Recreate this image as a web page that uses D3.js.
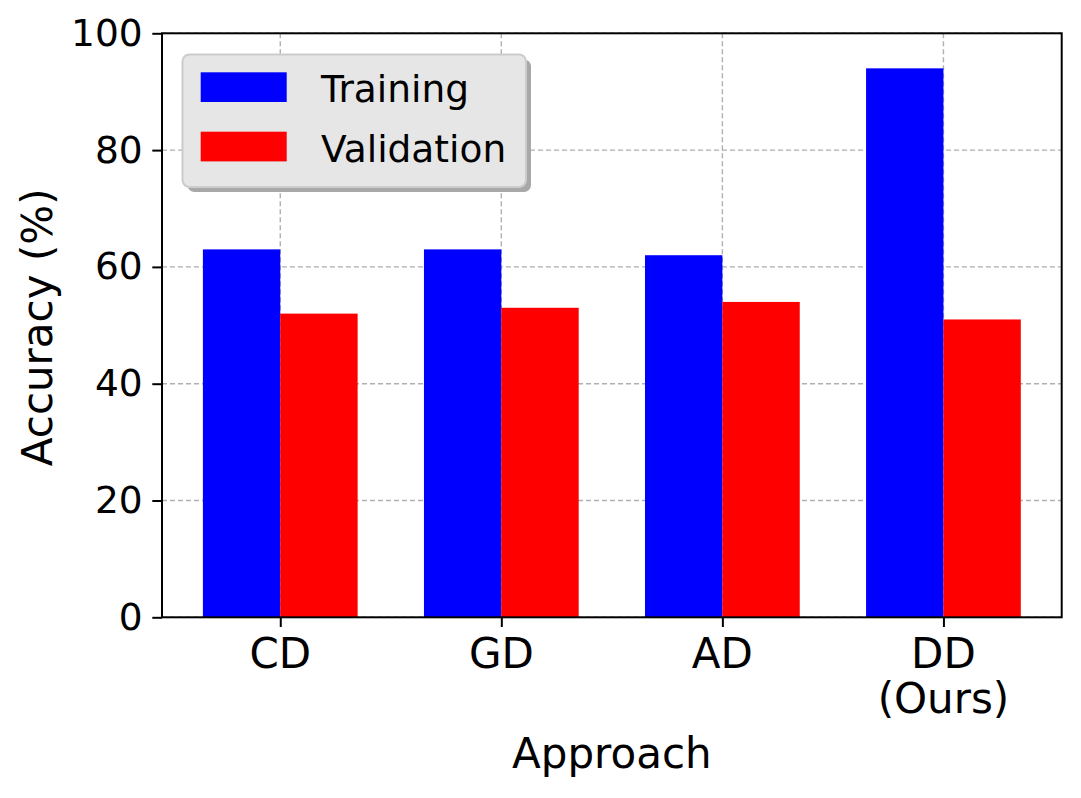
<!DOCTYPE html>
<html>
<head>
<meta charset="utf-8">
<script src="https://cdn.jsdelivr.net/npm/d3@7"></script>
<style>
  html, body { margin: 0; padding: 0; background: #fff; }
  svg { display: block; font-family: "DejaVu Sans", sans-serif; }
</style>
</head>
<body>
<svg id="chart" width="1081" height="798"></svg>
<script>
const categories = ["CD", "GD", "AD", "DD\n(Ours)"];
const training = [63, 63, 62, 94];
const validation = [52, 53, 54, 51];
const seriesNames = ["Training", "Validation"];
const seriesColors = ["#0000ff", "#ff0000"];
const yTicks = [0, 20, 40, 60, 80, 100];
const barWidth = 0.35;

const svg = d3.select("#chart");
const plot = { left: 162, right: 1061.7, top: 33.3, bottom: 617.3 };

const x = d3.scaleLinear().domain([-0.535, categories.length - 1 + 0.535]).range([plot.left, plot.right]);
const y = d3.scaleLinear().domain([0, 100]).range([plot.bottom, plot.top]);

// grid
const grid = svg.append("g");
grid.selectAll("line.h").data(yTicks).join("line")
  .attr("x1", plot.left).attr("x2", plot.right)
  .attr("y1", d => y(d)).attr("y2", d => y(d))
  .attr("stroke", "#b0b0b0").attr("stroke-width", 1.4).attr("stroke-dasharray", "5,3");
grid.selectAll("line.v").data(categories.map((c, i) => i)).join("line")
  .attr("x1", d => x(d)).attr("x2", d => x(d))
  .attr("y1", plot.top).attr("y2", plot.bottom)
  .attr("stroke", "#b0b0b0").attr("stroke-width", 1.4).attr("stroke-dasharray", "5,3");

// bars
const series = [training, validation];
series.forEach((vals, s) => {
  svg.append("g").selectAll("rect").data(vals).join("rect")
    .attr("x", (d, i) => x(i - barWidth + s * barWidth))
    .attr("width", x(barWidth) - x(0))
    .attr("y", d => y(d))
    .attr("height", d => y(0) - y(d))
    .attr("fill", seriesColors[s]);
});

// axes
const yAxis = d3.axisLeft(y).tickValues(yTicks).tickSize(9.7).tickPadding(9.7);
const gy = svg.append("g").attr("transform", `translate(${plot.left},0)`).call(yAxis);
gy.select(".domain").remove();
gy.selectAll(".tick line").attr("stroke", "#000").attr("stroke-width", 2);
gy.selectAll(".tick text").attr("font-size", 37.5).attr("fill", "#000")
  .attr("font-family", "DejaVu Sans");

const xAxis = d3.axisBottom(x).tickValues(categories.map((c, i) => i)).tickSize(9.7).tickFormat("");
const gx = svg.append("g").attr("transform", `translate(0,${plot.bottom})`).call(xAxis);
gx.select(".domain").remove();
gx.selectAll(".tick line").attr("stroke", "#000").attr("stroke-width", 2);

// x tick labels (multi-line)
const xl = svg.append("g");
categories.forEach((c, i) => {
  const lines = c.split("\n");
  const t = xl.append("text").attr("text-anchor", "middle")
    .attr("font-size", 42).attr("fill", "#000");
  lines.forEach((ln, k) => {
    t.append("tspan").attr("x", x(i)).attr("y", 667.7 + k * 45.6).text(ln);
  });
});

// frame
svg.append("rect")
  .attr("x", plot.left).attr("y", plot.top)
  .attr("width", plot.right - plot.left).attr("height", plot.bottom - plot.top)
  .attr("fill", "none").attr("stroke", "#000").attr("stroke-width", 2);

// axis labels
svg.append("text").attr("x", (plot.left + plot.right) / 2).attr("y", 768.3)
  .attr("text-anchor", "middle").attr("font-size", 42).attr("fill", "#000").text("Approach");
svg.append("text")
  .attr("transform", `translate(52,${(plot.top + plot.bottom) / 2 + 2}) rotate(-90)`)
  .attr("text-anchor", "middle").attr("font-size", 42).attr("fill", "#000").text("Accuracy (%)");

// legend
const lg = svg.append("g");
const lb = { x: 182.5, y: 54.5, w: 343.5, h: 132.5 };
lg.append("rect").attr("x", lb.x + 5).attr("y", lb.y + 5).attr("width", lb.w).attr("height", lb.h)
  .attr("rx", 7).attr("fill", "#a8a8a8");
lg.append("rect").attr("x", lb.x).attr("y", lb.y).attr("width", lb.w).attr("height", lb.h)
  .attr("rx", 7).attr("fill", "#e6e6e6").attr("stroke", "#cccccc").attr("stroke-width", 2);
seriesNames.forEach((name, i) => {
  const yy = 72.3 + i * 59.4;
  lg.append("rect").attr("x", 200.7).attr("y", yy).attr("width", 86).attr("height", 29.7)
    .attr("fill", seriesColors[i]);
  lg.append("text").attr("x", 321).attr("y", 101.7 + i * 60).attr("font-size", 37.5)
    .attr("fill", "#000").text(name);
});
</script>
</body>
</html>
